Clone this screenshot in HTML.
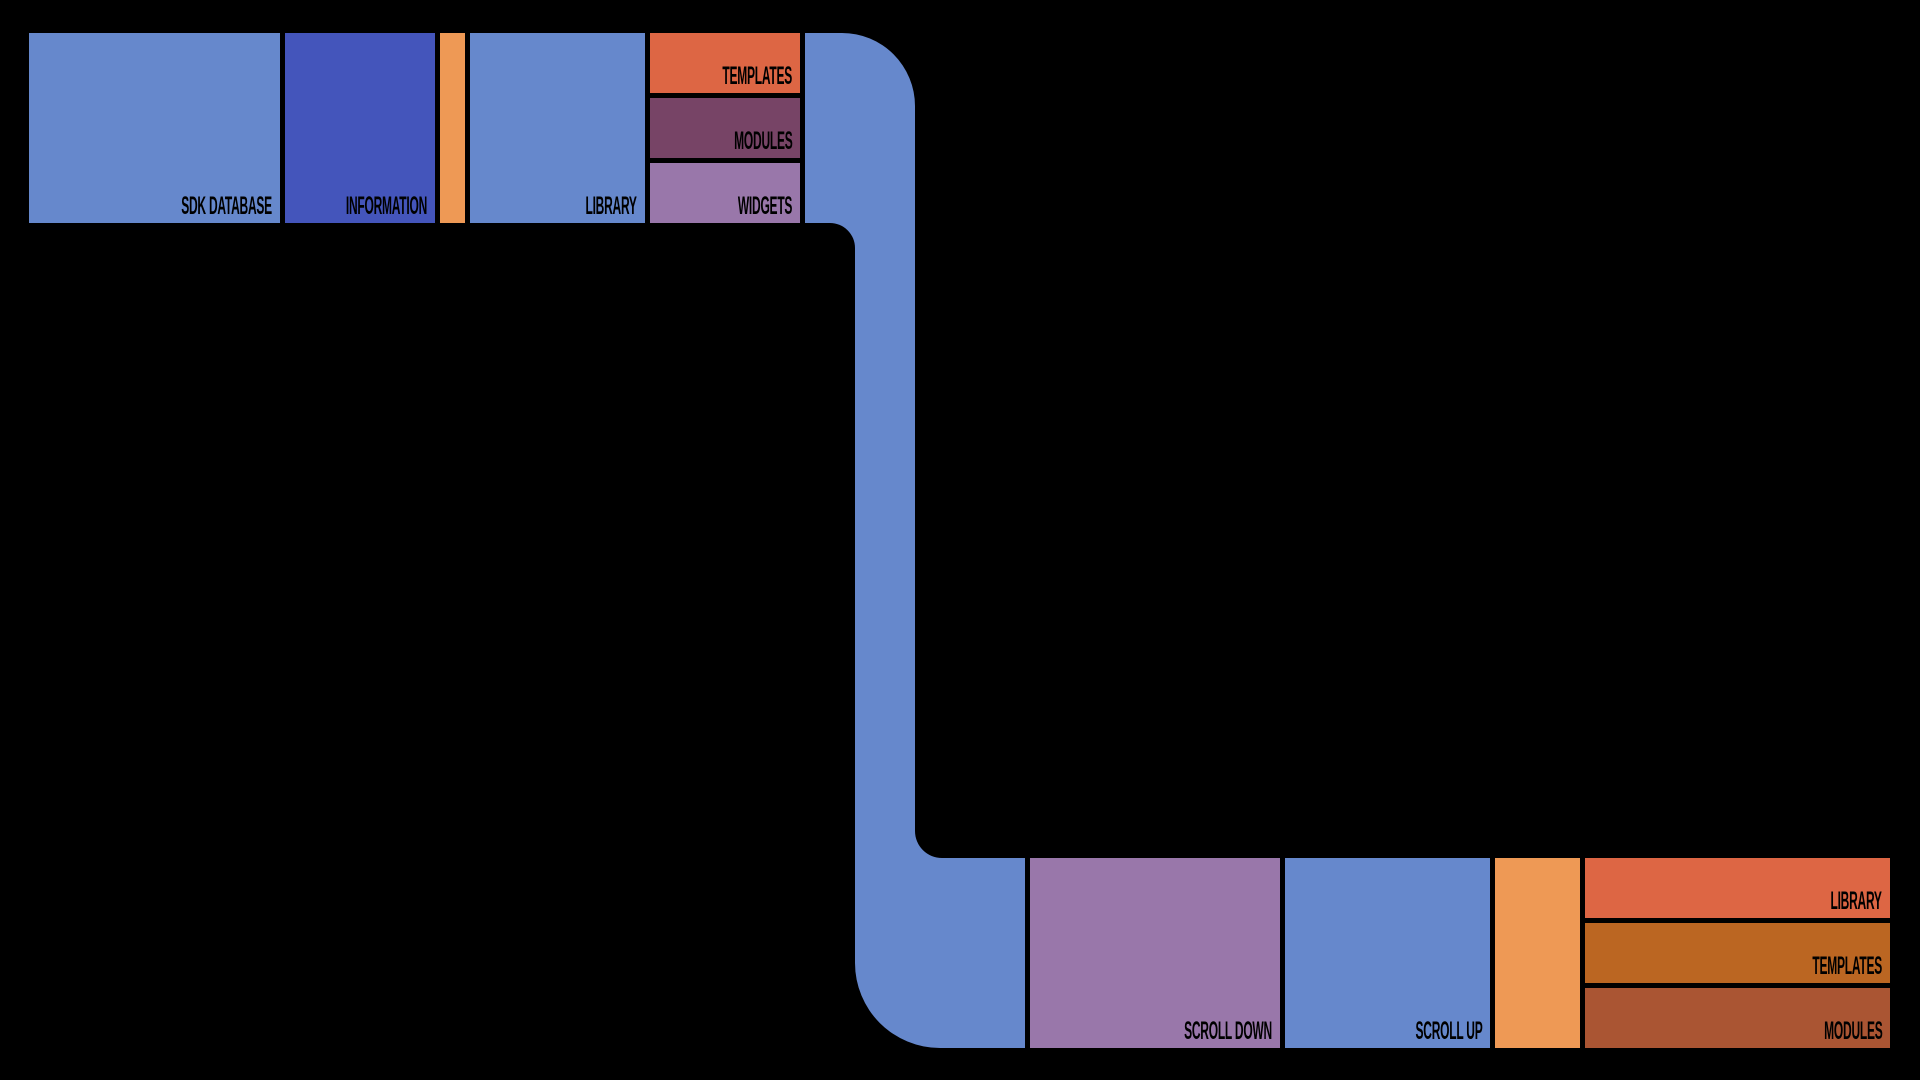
<!DOCTYPE html>
<html><head><style>
body{margin:0;background:#000;width:1920px;height:1080px;overflow:hidden;position:relative;font-family:"Liberation Sans",sans-serif}
.b{position:absolute;}
.b span{position:absolute;right:8px;bottom:2px;font-size:25px;font-weight:bold;color:#000;letter-spacing:-0.5px;transform:scaleX(0.48);transform-origin:right bottom;white-space:nowrap}
</style></head><body>
<svg width="1920" height="1080" style="position:absolute;left:0;top:0">
<path d="M805 33 L842 33 A73 73 0 0 1 915 106 L915 831 A27 27 0 0 0 942 858 L1025 858 L1025 1048 L940 1048 A85 85 0 0 1 855 963 L855 248 A25 25 0 0 0 830 223 L805 223 Z" fill="#6688cc"/>
</svg>
<div class="b" style="left:29px;top:33px;width:251px;height:190px;background:#6688cc"><span>SDK DATABASE</span></div>
<div class="b" style="left:285px;top:33px;width:150px;height:190px;background:#4455bb"><span>INFORMATION</span></div>
<div class="b" style="left:440px;top:33px;width:25px;height:190px;background:#ee9955"></div>
<div class="b" style="left:470px;top:33px;width:175px;height:190px;background:#6688cc"><span>LIBRARY</span></div>
<div class="b" style="left:650px;top:33px;width:150px;height:60px;background:#dd6644"><span>TEMPLATES</span></div>
<div class="b" style="left:650px;top:98px;width:150px;height:60px;background:#774466"><span>MODULES</span></div>
<div class="b" style="left:650px;top:163px;width:150px;height:60px;background:#9977aa"><span>WIDGETS</span></div>
<div class="b" style="left:1030px;top:858px;width:250px;height:190px;background:#9977aa"><span>SCROLL DOWN</span></div>
<div class="b" style="left:1285px;top:858px;width:205px;height:190px;background:#6688cc"><span>SCROLL UP</span></div>
<div class="b" style="left:1495px;top:858px;width:85px;height:190px;background:#ee9955"></div>
<div class="b" style="left:1585px;top:858px;width:305px;height:60px;background:#dd6644"><span>LIBRARY</span></div>
<div class="b" style="left:1585px;top:923px;width:305px;height:60px;background:#bb6622"><span>TEMPLATES</span></div>
<div class="b" style="left:1585px;top:988px;width:305px;height:60px;background:#aa5533"><span>MODULES</span></div>
</body></html>
